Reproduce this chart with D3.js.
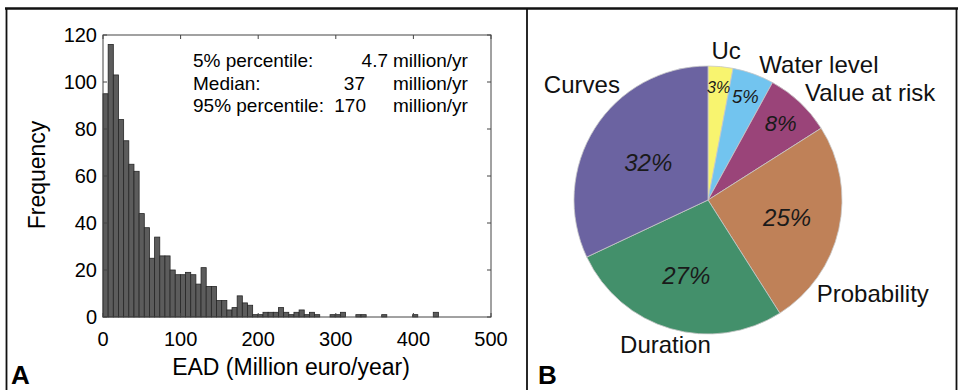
<!DOCTYPE html>
<html><head><meta charset="utf-8">
<script src="https://cdn.jsdelivr.net/npm/d3@7/dist/d3.min.js"></script>
<style>body{margin:0;background:#fff}text{font-family:"Liberation Sans",Arial,sans-serif}</style>
</head><body><svg id="c" width="958" height="390"></svg>
<script>
// ---- data ----
const binStart = 0;
const binWidth = 6.65;
const counts = [95,116,103,84,75,65,62,44,38,25,34,26,26,20,18,18,19,18,14,21,13,13,7,7,3,4,9,6,5,1,1,2,2,2,4,2,1,2,3,1,2,1,0,0,1,1,2,0,0,1,1,0,0,0,1,0,0,0,0,0,1,0,0,0,2];
const xTicks = [0,100,200,300,400,500];
const yTicks = [0,20,40,60,80,100,120];
const statLabels = ["5% percentile:","Median:","95% percentile:"];
const statValues = ["4.7","37","170"];
const statUnit = "million/yr";
const pieCats = ["Uc","Water level","Value at risk","Probability","Duration","Curves"];
const pieVals = [3,5,8,25,27,32];
const pieColors = ["#f8f46f","#72c4ef","#9a4479","#bf8158","#43906b","#6b63a1"];

// ---- drawing ----
const svg = d3.select("#c");
svg.append("rect").attr("width",958).attr("height",390).attr("fill","#fff");

// Panel A histogram
const x = d3.scaleLinear().domain([0,500]).range([103,491]);
const y = d3.scaleLinear().domain([0,120]).range([317,35]);
const gA = svg.append("g");
gA.selectAll("rect.bar").data(counts).join("rect")
  .attr("x",(d,i)=>x(binStart+i*binWidth))
  .attr("width",(d,i)=>x(binStart+(i+1)*binWidth)-x(binStart+i*binWidth))
  .attr("y",d=>y(d)).attr("height",d=>y(0)-y(d))
  .attr("fill","#5c5c5c").attr("stroke","#262626").attr("stroke-width",0.8);

// box
gA.append("rect").attr("x",x(0)).attr("y",y(120)).attr("width",x(500)-x(0)).attr("height",y(0)-y(120))
  .attr("fill","none").attr("stroke","#444").attr("stroke-width",1);
const tl = 4;
xTicks.forEach(t=>{
  gA.append("line").attr("x1",x(t)).attr("x2",x(t)).attr("y1",y(0)).attr("y2",y(0)-tl).attr("stroke","#444");
  gA.append("line").attr("x1",x(t)).attr("x2",x(t)).attr("y1",y(120)).attr("y2",y(120)+tl).attr("stroke","#444");
  gA.append("text").attr("x",x(t)).attr("y",346).attr("text-anchor","middle").attr("font-size",20).text(t);
});
yTicks.forEach(t=>{
  gA.append("line").attr("x1",x(0)).attr("x2",x(0)+tl).attr("y1",y(t)).attr("y2",y(t)).attr("stroke","#444");
  gA.append("line").attr("x1",x(500)).attr("x2",x(500)-tl).attr("y1",y(t)).attr("y2",y(t)).attr("stroke","#444");
  gA.append("text").attr("x",97).attr("y",y(t)).attr("dy","0.36em").attr("text-anchor","end").attr("font-size",20).text(t);
});
gA.append("text").attr("x",x(250)-6).attr("y",375).attr("text-anchor","middle").attr("font-size",23).text("EAD (Million euro/year)");
gA.append("text").attr("transform","translate(45,175) rotate(-90)").attr("text-anchor","middle").attr("font-size",23).text("Frequency");

// stats text
const lineY = [67,89.5,112];
const valEnd = [388,365,366];
statLabels.forEach((s,i)=>{
  gA.append("text").attr("x",193).attr("y",lineY[i]).attr("font-size",19).text(s);
  gA.append("text").attr("x",valEnd[i]).attr("y",lineY[i]).attr("text-anchor","end").attr("font-size",19).text(statValues[i]);
  gA.append("text").attr("x",393).attr("y",lineY[i]).attr("font-size",19).text(statUnit);
});

// Panel B pie
const cx = 708, cy = 200, R = 134;
const pie = d3.pie().sort(null).value(d=>d.v);
const arcs = pie(pieCats.map((c,i)=>({c, v:pieVals[i], col:pieColors[i]})));
const arc = d3.arc().innerRadius(0).outerRadius(R);
const gB = svg.append("g").attr("transform",`translate(${cx},${cy})`);
gB.selectAll("path").data(arcs).join("path").attr("d",arc)
  .attr("fill",d=>d.data.col).attr("stroke","#c8c8c8").attr("stroke-width",0.8);

// percentage labels
arcs.forEach(d=>{
  const rf = 0.88 - 0.011*d.data.v;
  const la = d3.arc().innerRadius(R*rf).outerRadius(R*rf);
  const [px,py] = la.centroid(d);
  gB.append("text").attr("x",px).attr("y",py).attr("dy","0.36em").attr("text-anchor","middle")
    .attr("font-style","italic").attr("font-size",Math.min(24,12.5+1.2*d.data.v)).attr("fill","#1a1a1a")
    .text(d.data.v+"%");
});

// category labels (placed outside, nudged)
const labelLayout = {
  "Uc":["middle",4,8.6],
  "Water level":["start",0.5,13.8],
  "Value at risk":["start",-5.7,10.4],
  "Probability":["start",-37.7,69],
  "Duration":["middle",-0.7,8.7],
  "Curves":["end",38.6,-26.3]
};
const outer = d3.arc().innerRadius(R*1.12).outerRadius(R*1.12);
arcs.forEach(d=>{
  const [px,py] = outer.centroid(d);
  const L = labelLayout[d.data.c];
  gB.append("text").attr("x",px+L[1]).attr("y",py+L[2]).attr("text-anchor",L[0])
    .attr("font-size",24).attr("fill","#111").text(d.data.c);
});

// frame
const fr = svg.append("g").attr("stroke","#111").attr("fill","none");
fr.append("line").attr("x1",5).attr("x2",958).attr("y1",8.5).attr("y2",8.5).attr("stroke-width",2.5);
[6.5,527,956.5].forEach(xx=>fr.append("line").attr("x1",xx).attr("x2",xx).attr("y1",8).attr("y2",390).attr("stroke-width",1.8));

svg.append("text").attr("x",11).attr("y",384).attr("font-size",26).attr("font-weight","bold").text("A");
svg.append("text").attr("x",538).attr("y",384).attr("font-size",26).attr("font-weight","bold").text("B");
</script></body></html>
